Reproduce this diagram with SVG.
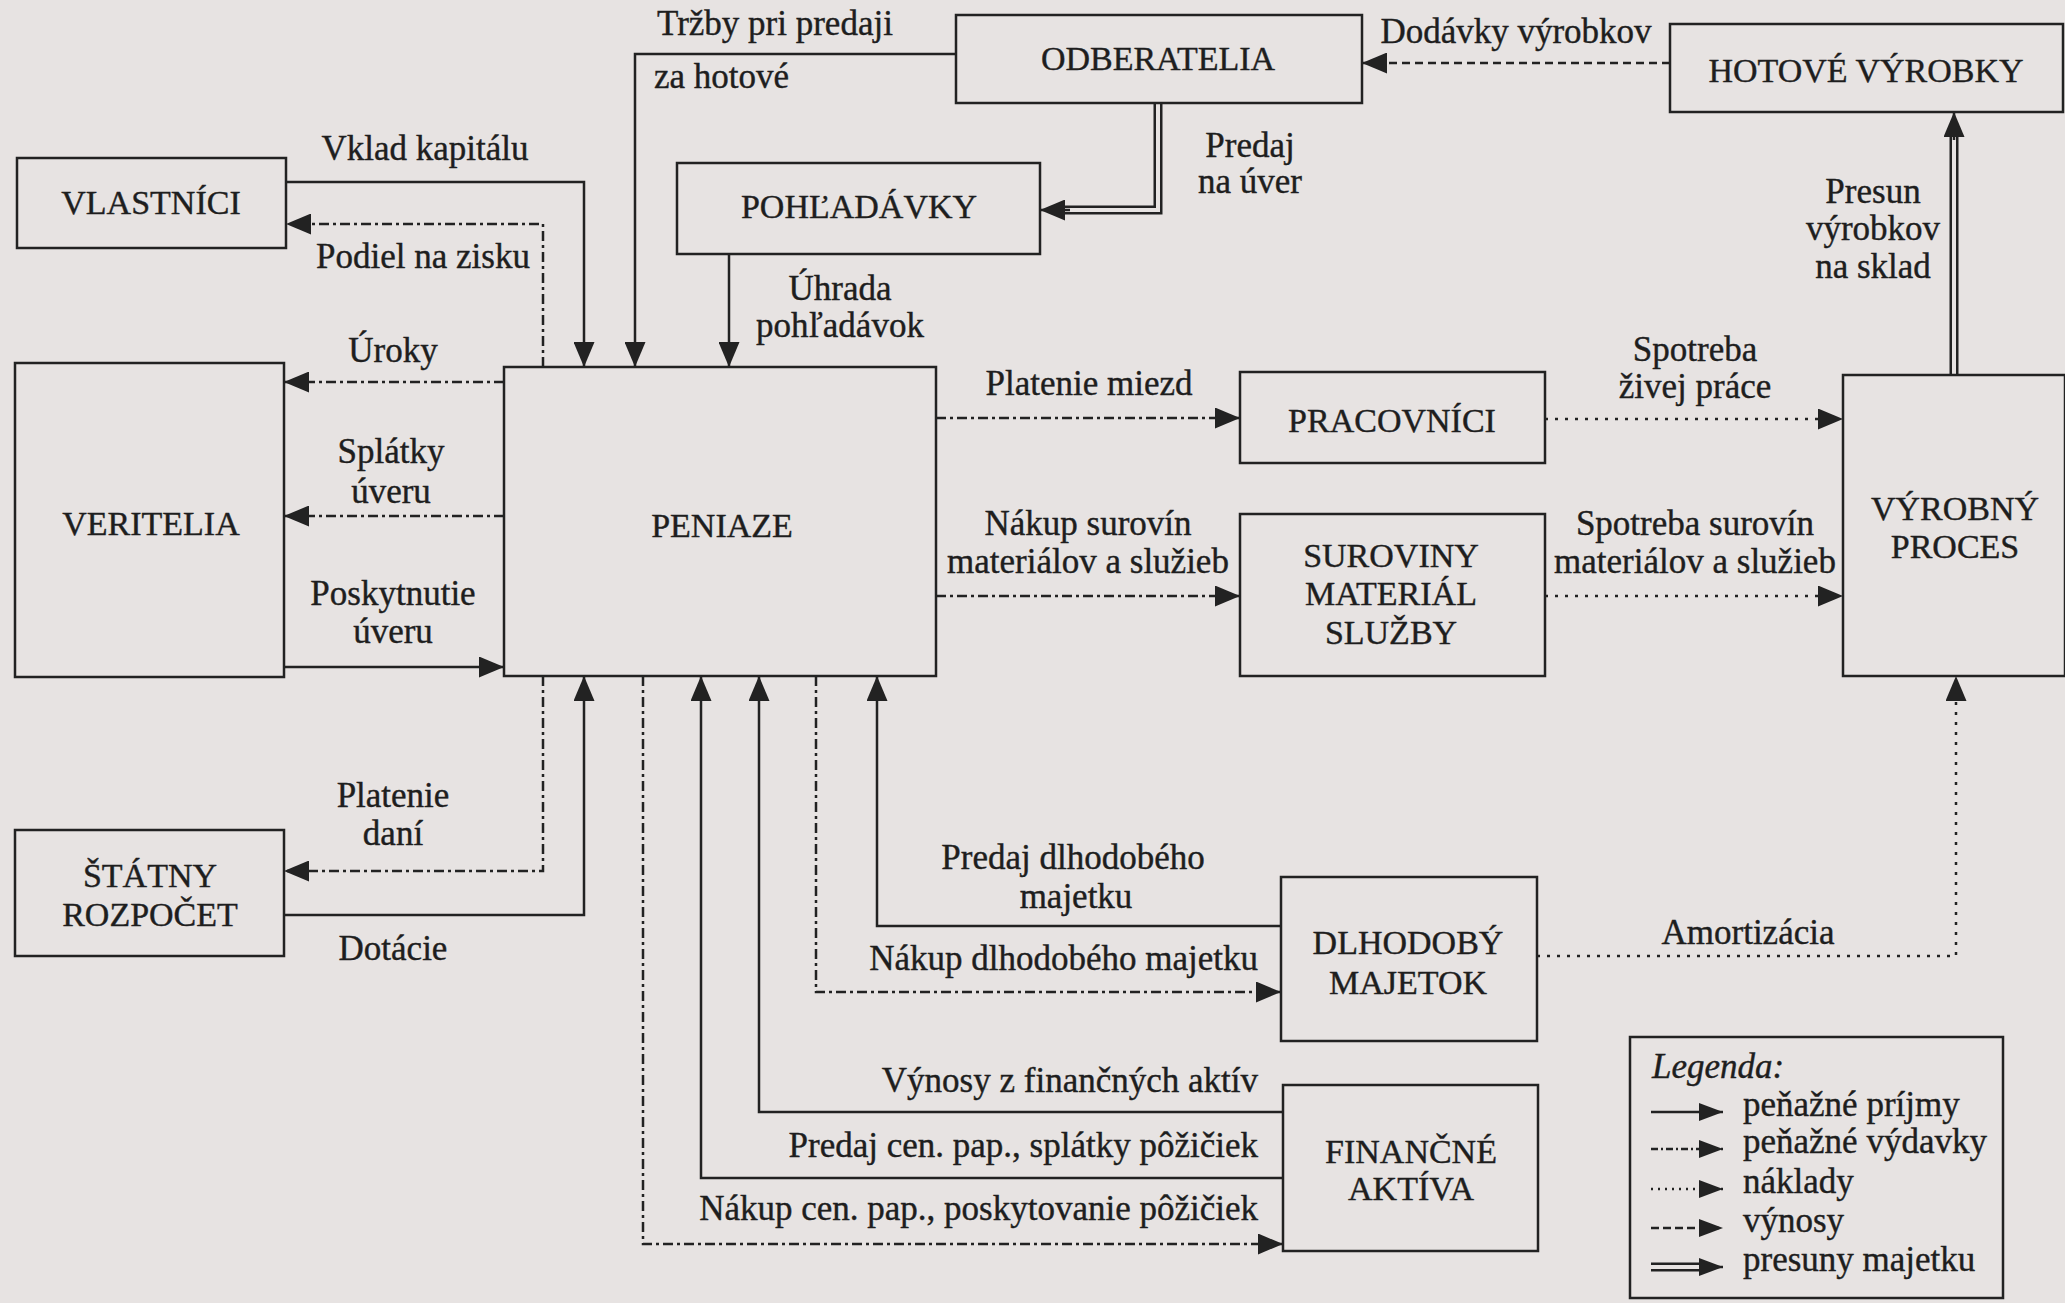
<svg xmlns="http://www.w3.org/2000/svg" width="2065" height="1303" viewBox="0 0 2065 1303">
<style>
.bg{fill:#e7e3e2}
.box{fill:#e7e3e2;stroke:#222;stroke-width:2.5}
.nt{font-family:"Liberation Serif","Times New Roman",serif;font-size:34px;fill:#1e1e1e;stroke:#1e1e1e;stroke-width:0.4;text-anchor:middle}
.lt{font-family:"Liberation Serif","Times New Roman",serif;font-size:35px;fill:#1e1e1e;stroke:#1e1e1e;stroke-width:0.4}
.m{text-anchor:middle}
.e{text-anchor:end}
.ln{fill:none;stroke:#222;stroke-width:2.5}
.sol{marker-end:url(#arr)}
.dd{stroke-dasharray:10 4 3 4;marker-end:url(#arr)}
.dot{stroke-dasharray:3 7;marker-end:url(#arr)}
.dsh{stroke-dasharray:8 5;marker-end:url(#arr)}
.dbo{fill:none;stroke:#222;stroke-width:9}
.dbi{fill:none;stroke:#e7e3e2;stroke-width:4}
</style>
<defs>
<marker id="arr" markerUnits="userSpaceOnUse" markerWidth="25" markerHeight="21" refX="25" refY="10.5" orient="auto" viewBox="0 0 25 21">
<path d="M0,0 L25,10.5 L0,21 z" fill="#222"/>
</marker>
<marker id="arrS" markerUnits="userSpaceOnUse" markerWidth="24" markerHeight="18" refX="24" refY="9" orient="auto" viewBox="0 0 24 18">
<path d="M0,0 L24,9 L0,18 z" fill="#222"/>
</marker>
</defs>
<rect class="bg" x="0" y="0" width="2065" height="1303"/>

<g id="connectors">
<path class="ln sol" d="M286,182 H584 V367"/>
<path class="ln dd" d="M543,367 V224 H286"/>
<path class="ln sol" d="M956,54 H635 V367"/>
<path class="ln sol" d="M729,254 V367"/>
<path class="dbo" d="M1158,103 V210 H1062"/>
<path class="dbi" d="M1158,103 V210 H1062"/>
<path class="ln" d="M1070,210 H1040" style="marker-end:url(#arr)"/>
<path class="ln dsh" d="M1670,63 H1362"/>
<path class="dbo" d="M1954,375 V134"/>
<path class="dbi" d="M1954,375 V134"/>
<path class="ln" d="M1954,140 V112" style="marker-end:url(#arr)"/>
<path class="ln dd" d="M504,382 H284"/>
<path class="ln dd" d="M504,516 H284"/>
<path class="ln sol" d="M284,667 H504"/>
<path class="ln dd" d="M936,418 H1240"/>
<path class="ln dd" d="M936,596 H1240"/>
<path class="ln dot" d="M1545,419 H1843"/>
<path class="ln dot" d="M1545,596 H1843"/>
<path class="ln dd" d="M543,676 V871 H284"/>
<path class="ln sol" d="M284,915 H584 V676"/>
<path class="ln dd" d="M643,676 V1244 H1283"/>
<path class="ln sol" d="M1283,1178 H701 V676"/>
<path class="ln sol" d="M1283,1112 H759 V676"/>
<path class="ln dd" d="M816,676 V992 H1281"/>
<path class="ln sol" d="M1281,926 H877 V676"/>
<path class="ln dot" d="M1537,956 H1956 V676"/>
</g>

<g id="vlastnici"><rect class="box" x="17" y="158" width="269" height="90"/><text class="nt" x="151" y="214">VLASTNÍCI</text></g>
<g id="pohladavky"><rect class="box" x="677" y="163" width="363" height="91"/><text class="nt" x="859" y="218">POHĽADÁVKY</text></g>
<g id="odberatelia"><rect class="box" x="956" y="15" width="406" height="88"/><text class="nt" x="1158" y="70">ODBERATELIA</text></g>
<g id="hotove"><rect class="box" x="1670" y="24" width="393" height="88"/><text class="nt" x="1866" y="82">HOTOVÉ VÝROBKY</text></g>
<g id="veritelia"><rect class="box" x="15" y="363" width="269" height="314"/><text class="nt" x="151" y="535">VERITELIA</text></g>
<g id="peniaze"><rect class="box" x="504" y="367" width="432" height="309"/><text class="nt" x="722" y="537">PENIAZE</text></g>
<g id="pracovnici"><rect class="box" x="1240" y="372" width="305" height="91"/><text class="nt" x="1392" y="432">PRACOVNÍCI</text></g>
<g id="suroviny"><rect class="box" x="1240" y="514" width="305" height="162"/><text class="nt" x="1391" y="567">SUROVINY</text><text class="nt" x="1391" y="605">MATERIÁL</text><text class="nt" x="1391" y="644">SLUŽBY</text></g>
<g id="vyrobny"><rect class="box" x="1843" y="375" width="222" height="301"/><text class="nt" x="1955" y="520">VÝROBNÝ</text><text class="nt" x="1955" y="558">PROCES</text></g>
<g id="statny"><rect class="box" x="15" y="830" width="269" height="126"/><text class="nt" x="150" y="887">ŠTÁTNY</text><text class="nt" x="150" y="926">ROZPOČET</text></g>
<g id="dlhodoby"><rect class="box" x="1281" y="877" width="256" height="164"/><text class="nt" x="1408" y="954">DLHODOBÝ</text><text class="nt" x="1408" y="994">MAJETOK</text></g>
<g id="financne"><rect class="box" x="1283" y="1085" width="255" height="166"/><text class="nt" x="1411" y="1163">FINANČNÉ</text><text class="nt" x="1411" y="1200">AKTÍVA</text></g>

<g id="labels">
<text class="lt" x="657" y="35">Tržby pri predaji</text>
<text class="lt" x="654" y="88">za hotové</text>
<text class="lt m" x="425" y="160">Vklad kapitálu</text>
<text class="lt m" x="423" y="268">Podiel na zisku</text>
<text class="lt m" x="393" y="362">Úroky</text>
<text class="lt m" x="391" y="463">Splátky</text>
<text class="lt m" x="391" y="503">úveru</text>
<text class="lt m" x="393" y="605">Poskytnutie</text>
<text class="lt m" x="393" y="643">úveru</text>
<text class="lt m" x="393" y="807">Platenie</text>
<text class="lt m" x="393" y="845">daní</text>
<text class="lt m" x="393" y="960">Dotácie</text>
<text class="lt m" x="840" y="300">Úhrada</text>
<text class="lt m" x="840" y="337">pohľadávok</text>
<text class="lt m" x="1250" y="157">Predaj</text>
<text class="lt m" x="1250" y="193">na úver</text>
<text class="lt m" x="1516" y="43">Dodávky výrobkov</text>
<text class="lt m" x="1873" y="203">Presun</text>
<text class="lt m" x="1873" y="240">výrobkov</text>
<text class="lt m" x="1873" y="278">na sklad</text>
<text class="lt m" x="1695" y="361">Spotreba</text>
<text class="lt m" x="1695" y="398">živej práce</text>
<text class="lt m" x="1089" y="395">Platenie miezd</text>
<text class="lt m" x="1088" y="535">Nákup surovín</text>
<text class="lt m" x="1088" y="573">materiálov a služieb</text>
<text class="lt m" x="1695" y="535">Spotreba surovín</text>
<text class="lt m" x="1695" y="573">materiálov a služieb</text>
<text class="lt m" x="1073" y="869">Predaj dlhodobého</text>
<text class="lt m" x="1076" y="908">majetku</text>
<text class="lt e" x="1258" y="970">Nákup dlhodobého majetku</text>
<text class="lt e" x="1258" y="1092">Výnosy z finančných aktív</text>
<text class="lt e" x="1258" y="1157">Predaj cen. pap., splátky pôžičiek</text>
<text class="lt e" x="1258" y="1220">Nákup cen. pap., poskytovanie pôžičiek</text>
<text class="lt m" x="1748" y="944">Amortizácia</text>
</g>

<g id="legend">
<rect class="box" x="1630" y="1037" width="373" height="261"/>
<text class="lt" x="1652" y="1078" font-style="italic">Legenda:</text>
<path class="ln" d="M1651,1112 H1723" style="marker-end:url(#arrS)"/>
<path class="ln" d="M1651,1149 H1723" style="stroke-dasharray:7 3 2 3;marker-end:url(#arrS)"/>
<path class="ln" d="M1651,1189 H1723" style="stroke-dasharray:2 5;marker-end:url(#arrS)"/>
<path class="ln" d="M1651,1228 H1723" style="stroke-dasharray:8 4;marker-end:url(#arrS)"/>
<path class="dbo" d="M1651,1267 H1705"/>
<path class="dbi" d="M1651,1267 H1705"/>
<path class="ln" d="M1700,1267 H1723" style="marker-end:url(#arrS)"/>
<text class="lt" x="1743" y="1116">peňažné príjmy</text>
<text class="lt" x="1743" y="1153">peňažné výdavky</text>
<text class="lt" x="1743" y="1193">náklady</text>
<text class="lt" x="1743" y="1232">výnosy</text>
<text class="lt" x="1743" y="1271">presuny majetku</text>
</g>
</svg>
